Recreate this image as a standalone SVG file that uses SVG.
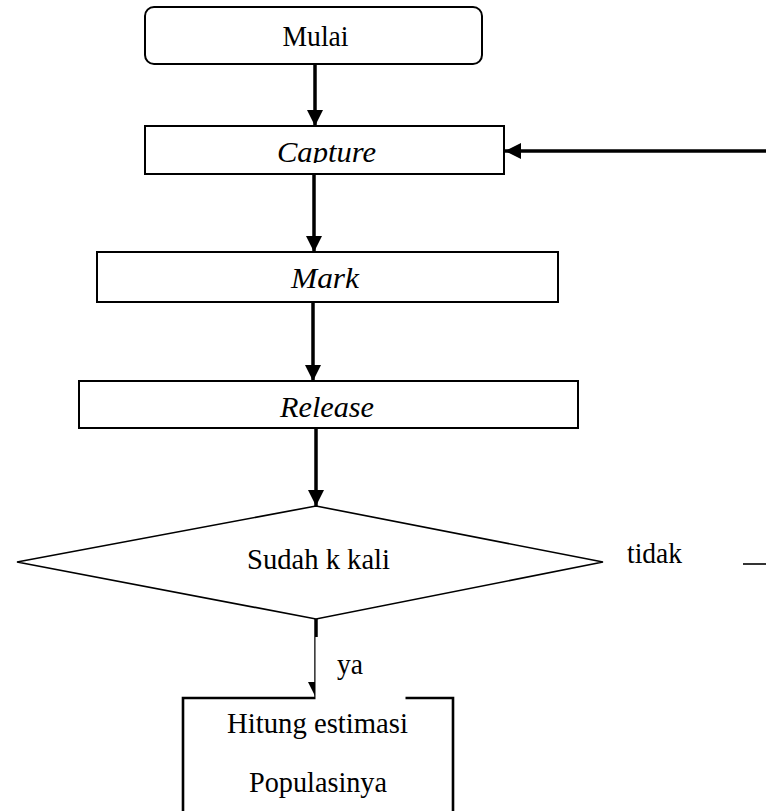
<svg xmlns="http://www.w3.org/2000/svg" width="766" height="811" viewBox="0 0 766 811">
<style>
.box{fill:#fff;stroke:#000;stroke-width:2}
.dia{fill:#fff;stroke:#000;stroke-width:1.6}
.t{font-family:"Liberation Serif","Times New Roman",serif;font-size:30px;fill:#000}
.i{font-style:italic}
.c{stroke:#000;stroke-width:3.5;fill:none}
.thin{stroke:#000;stroke-width:1.6;fill:none}
</style>
<defs>
<marker id="ah" markerUnits="userSpaceOnUse" markerWidth="16" markerHeight="16" refX="16" refY="8" orient="auto">
<path d="M0,0 L16,8 L0,16 z" fill="#000"/>
</marker>
<clipPath id="capclip"><rect x="145" y="126" width="359" height="37"/></clipPath>
</defs>
<g id="connectors">
<line class="c" x1="315" y1="64" x2="315" y2="126" marker-end="url(#ah)"/>
<line class="c" x1="766" y1="151" x2="505" y2="151" marker-end="url(#ah)"/>
<line class="c" x1="314" y1="174" x2="314" y2="252" marker-end="url(#ah)"/>
<line class="c" x1="313" y1="302" x2="313" y2="381" marker-end="url(#ah)"/>
<line class="c" x1="316" y1="428" x2="316" y2="506" marker-end="url(#ah)"/>
<line class="c" x1="316" y1="619" x2="316" y2="698" marker-end="url(#ah)"/>
<line class="thin" x1="743" y1="564" x2="766" y2="564"/>
</g>
<g id="mulai">
<rect class="box" x="145" y="7" width="337" height="57" rx="9"/>
<text class="t" x="315.5" y="46" text-anchor="middle" textLength="66" lengthAdjust="spacingAndGlyphs">Mulai</text>
</g>
<g id="capture">
<rect class="box" x="145" y="126" width="359" height="48"/>
<text class="t i" x="326.5" y="162" text-anchor="middle" textLength="99" lengthAdjust="spacingAndGlyphs" clip-path="url(#capclip)">Capture</text>
</g>
<g id="mark">
<rect class="box" x="97" y="252" width="461" height="50"/>
<text class="t i" x="325" y="288" text-anchor="middle" textLength="68" lengthAdjust="spacingAndGlyphs">Mark</text>
</g>
<g id="release">
<rect class="box" x="79" y="381" width="499" height="47"/>
<text class="t i" x="327" y="417" text-anchor="middle" textLength="94" lengthAdjust="spacingAndGlyphs">Release</text>
</g>
<g id="decision">
<polygon class="dia" points="316,506 603,562 316,619 17,562"/>
<text class="t" x="318.5" y="569" text-anchor="middle" textLength="143" lengthAdjust="spacingAndGlyphs">Sudah k kali</text>
</g>
<g id="hitung">
<path d="M183,815 L183,698 L453,698 L453,815" fill="none" stroke="#000" stroke-width="2.6"/>
<text class="t" x="317.5" y="733" text-anchor="middle" textLength="181" lengthAdjust="spacingAndGlyphs">Hitung estimasi</text>
<text class="t" x="318" y="792" text-anchor="middle" textLength="138" lengthAdjust="spacingAndGlyphs">Populasinya</text>
</g>
<g id="labels">
<rect x="315.5" y="637" width="90" height="63" fill="#fff"/>
<text class="t" x="337" y="674" textLength="26" lengthAdjust="spacingAndGlyphs">ya</text>
<text class="t" x="627" y="563" textLength="55" lengthAdjust="spacingAndGlyphs">tidak</text>
</g>
</svg>
